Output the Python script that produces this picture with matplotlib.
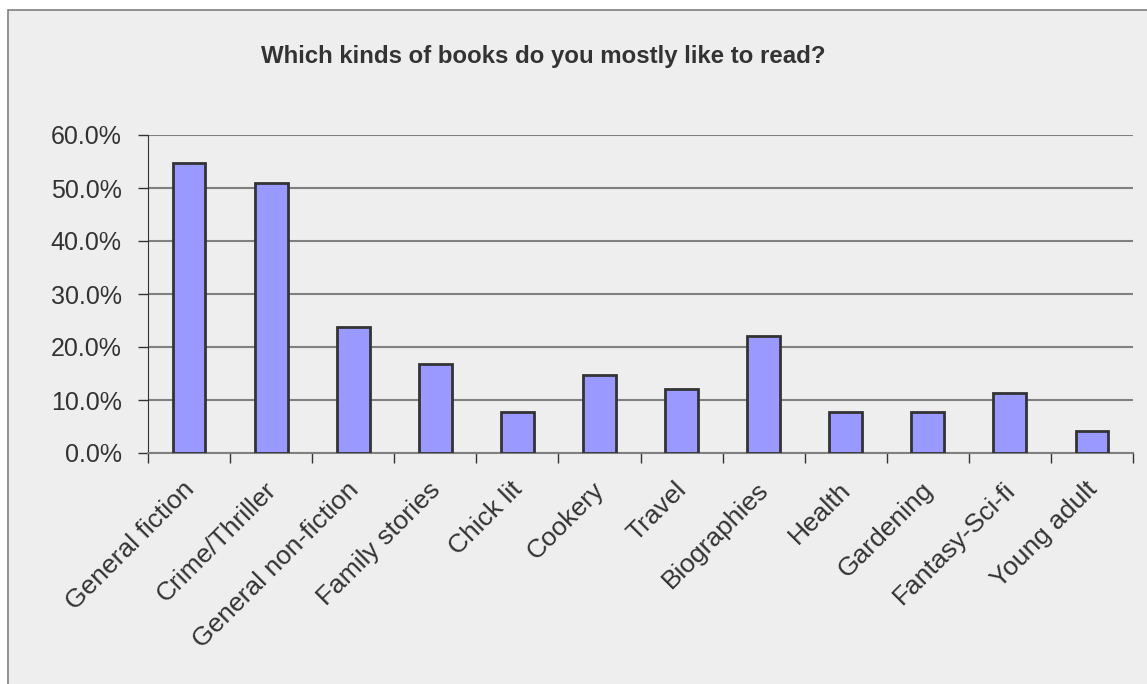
import matplotlib.pyplot as plt
import numpy as np
import matplotlib.transforms as mtransforms
from matplotlib.patches import Rectangle
from matplotlib.ticker import FuncFormatter

plt.rcParams['font.family'] = ['Liberation Sans', 'DejaVu Sans']

categories = ["General fiction", "Crime/Thriller", "General non-fiction", "Family stories",
              "Chick lit", "Cookery", "Travel", "Biographies", "Health", "Gardening",
              "Fantasy-Sci-fi", "Young adult"]
shares = [54.7, 50.9, 23.7, 16.8, 7.7, 14.7, 12.1, 22.0, 7.7, 7.7, 11.3, 4.2]

W, H = 1147, 684
fig = plt.figure(figsize=(W / 100, H / 100), dpi=100)
fig.patch.set_facecolor('white')

# chart area box (grey panel with thin border)
fig.patches.append(Rectangle((8 / W, -0.01), 1.0, 1 - 10 / H + 0.01, transform=fig.transFigure,
                             facecolor='#eeeeee', edgecolor='#808080', linewidth=1.2, zorder=-5))

ax = fig.add_axes([148 / W, 1 - 453 / H, (1133 - 148) / W, (453 - 135) / H], zorder=2)
ax.set_facecolor('none')

x = np.arange(len(categories))
ax.bar(x, shares, width=0.4, color='#9999ff', edgecolor='#333333', linewidth=2, zorder=3)

ax.set_xlim(-0.5, len(categories) - 0.5)
ax.set_ylim(0, 60)
ax.set_yticks(np.arange(0, 61, 10))
ax.yaxis.set_major_formatter(FuncFormatter(lambda v, p: f"{v:.1f}%"))
ax.yaxis.grid(True, color='#808080', linewidth=1.5, zorder=1)
ax.set_axisbelow(True)

ax.set_xticks(x)
ax.set_xticklabels(categories, rotation=45, ha='right', va='top', rotation_mode='anchor')
ax.set_xticks(np.arange(-0.5, len(categories)), minor=True)
ax.tick_params(axis='x', which='major', length=0, pad=14, labelsize=19, colors='#333333')
ax.tick_params(axis='x', which='minor', length=7, width=1, color='#333333', direction='out')
ax.tick_params(axis='y', length=7, width=1, color='#333333', labelsize=18,
               labelcolor='#333333', pad=12)

# nudge category labels a little left/down
shift = mtransforms.ScaledTranslation(-7 / 100, -5 / 100, fig.dpi_scale_trans)
for lab in ax.get_xticklabels():
    lab.set_transform(lab.get_transform() + shift)

for s in ['top', 'right']:
    ax.spines[s].set_visible(False)
ax.spines['left'].set_color('#333333')
ax.spines['bottom'].set_color('#808080')
ax.spines['bottom'].set_linewidth(1.5)

fig.text(543 / W, 1 - 57 / H, "Which kinds of books do you mostly like to read?",
         ha='center', va='center', fontsize=17.3, fontweight='bold', color='#333333')

fig.savefig('out.png', dpi=100)
